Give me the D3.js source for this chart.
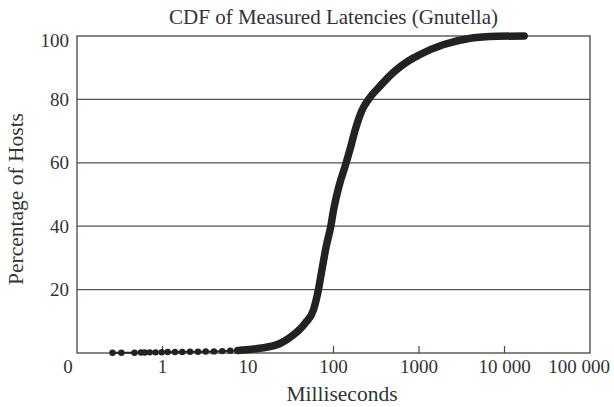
<!DOCTYPE html>
<html>
<head>
<meta charset="utf-8">
<script src="https://cdn.jsdelivr.net/npm/d3@7"></script>
<style>
  body { margin: 0; background: #fff; }
  svg { display: block; font-family: "Liberation Serif", "DejaVu Serif", serif; }
</style>
</head>
<body>
<div id="chart"></div>
<script>
// latency values (ms) and cumulative percentage of hosts
const latencyMs = [0.26, 0.33, 0.47, 0.56, 0.62, 0.71, 0.83, 0.98, 1.15, 1.4, 1.7, 2.1, 2.6, 3.2, 4, 5, 6.2, 7.6, 9.5,
                   13.8, 23.7, 34, 46.6, 58.3, 66.7, 73, 82, 93, 100, 117, 137, 157, 180, 215, 257, 353, 505, 757, 1000,
                   1950, 4000, 8200, 17000];
const percentHosts = [0.1, 0.1, 0.1, 0.15, 0.15, 0.2, 0.2, 0.25, 0.3, 0.3, 0.35, 0.4, 0.4, 0.45, 0.5, 0.6, 0.7, 0.8, 1.0,
                      1.5, 3, 5.7, 9.4, 13.6, 20, 26, 33.5, 40, 45, 53, 59, 64.5, 70.5, 76.5, 80, 84.3, 88.6, 92.2, 94,
                      97.3, 99.3, 99.9, 100];
const xTicks = [0.1, 1, 10, 100, 1000, 10000, 100000];
const xTickLabels = ["0", "1", "10", "100", "1000", "10 000", "100 000"];
const yTicks = [20, 40, 60, 80, 100];

const data = latencyMs.map((d, i) => ({ ms: d, pct: percentHosts[i] }));

const width = 614, height = 407;
const margin = { top: 36, right: 24, bottom: 54, left: 77 };

const svg = d3.select("#chart").append("svg")
    .attr("width", width)
    .attr("height", height);

const x = d3.scaleLog()
    .domain([0.1, 100000])
    .range([margin.left, width - margin.right]);

const y = d3.scaleLinear()
    .domain([0, 100])
    .range([height - margin.bottom, margin.top]);

// horizontal grid lines
svg.append("g")
  .selectAll("line")
  .data(yTicks.slice(0, -1))
  .join("line")
    .attr("x1", x(0.1))
    .attr("x2", x(100000))
    .attr("y1", d => y(d))
    .attr("y2", d => y(d))
    .attr("stroke", "#555")
    .attr("stroke-width", 1.2);

// frame
svg.append("rect")
    .attr("x", x(0.1))
    .attr("y", y(100))
    .attr("width", x(100000) - x(0.1))
    .attr("height", y(0) - y(100))
    .attr("fill", "none")
    .attr("stroke", "#444")
    .attr("stroke-width", 1.3);

// small inward ticks on the x axis
svg.append("g")
  .selectAll("line")
  .data(xTicks.slice(1, -1))
  .join("line")
    .attr("x1", d => x(d))
    .attr("x2", d => x(d))
    .attr("y1", y(0))
    .attr("y2", y(0) - 7)
    .attr("stroke", "#444")
    .attr("stroke-width", 1.2);

// x tick labels
svg.append("g")
  .selectAll("text")
  .data(xTicks)
  .join("text")
    .attr("x", d => x(d))
    .attr("dx", (d, i) => i == 0 ? -9 : (i == xTicks.length - 1 ? -11 : 0))
    .attr("y", y(0) + 20)
    .attr("text-anchor", "middle")
    .attr("font-size", 19)
    .attr("fill", "#333")
    .text((d, i) => xTickLabels[i]);

// y tick labels
svg.append("g")
  .selectAll("text")
  .data(yTicks)
  .join("text")
    .attr("x", x(0.1) - 8)
    .attr("y", d => y(d))
    .attr("dy", d => d == 100 ? "0.6em" : "0.35em")
    .attr("text-anchor", "end")
    .attr("font-size", 19)
    .attr("fill", "#333")
    .text(d => d);

// thin connecting line through every point
const line = d3.line()
    .x(d => x(d.ms))
    .y(d => y(d.pct))
    .curve(d3.curveMonotoneX);

svg.append("path")
    .datum(data)
    .attr("fill", "none")
    .attr("stroke", "#222")
    .attr("stroke-width", 2)
    .attr("d", line);

// dense part of the curve drawn thick
svg.append("path")
    .datum(data.filter(d => d.ms >= 7))
    .attr("fill", "none")
    .attr("stroke", "#222")
    .attr("stroke-width", 7.5)
    .attr("stroke-linecap", "round")
    .attr("stroke-linejoin", "round")
    .attr("d", line);

// sparse markers at the low end
svg.append("g")
  .selectAll("circle")
  .data(data.filter(d => d.ms < 10))
  .join("circle")
    .attr("cx", d => x(d.ms))
    .attr("cy", d => y(d.pct))
    .attr("r", 3.2)
    .attr("fill", "#222");

// titles
svg.append("text")
    .attr("x", (x(0.1) + x(100000)) / 2)
    .attr("y", 24)
    .attr("text-anchor", "middle")
    .attr("font-size", 21)
    .attr("fill", "#333")
    .text("CDF of Measured Latencies (Gnutella)");

svg.append("text")
    .attr("x", 342)
    .attr("y", 401)
    .attr("text-anchor", "middle")
    .attr("font-size", 21.5)
    .attr("fill", "#333")
    .text("Milliseconds");

svg.append("text")
    .attr("transform", "translate(23,199) rotate(-90)")
    .attr("text-anchor", "middle")
    .attr("font-size", 21.5)
    .attr("fill", "#333")
    .text("Percentage of Hosts");
</script>
</body>
</html>
